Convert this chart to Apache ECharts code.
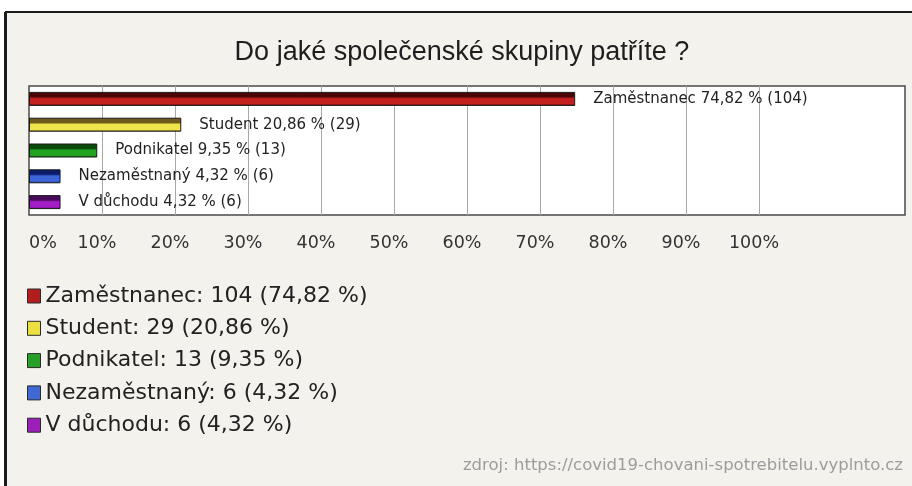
<!DOCTYPE html>
<html><head><meta charset="utf-8">
<script src="https://cdn.jsdelivr.net/npm/echarts@6.0.0/dist/echarts.min.js"></script>
<style>html,body{margin:0;padding:0;background:#fff}#c{width:912px;height:486px}</style>
</head><body><div id="c"></div><script>
const titleText = 'Do jaké společenské skupiny patříte ?';
const sourceText = 'zdroj: https://covid19-chovani-spotrebitelu.vyplnto.cz';
const categories = ['Zaměstnanec', 'Student', 'Podnikatel', 'Nezaměstnaný', 'V důchodu'];
const counts = [104, 29, 13, 6, 6];
const percents = [74.82, 20.86, 9.35, 4.32, 4.32];
const axisMax = 120;
const axisStep = 10;
const lastLabel = 100;

const topColors  = ['#4a0606', '#6e5a1c', '#0b4a0b', '#0c1c6a', '#4a0a5c'];
const faceColors = ['#c41f1f', '#efe54a', '#22a322', '#3b64d6', '#a31ec6'];
const legendColors = ['#b01e1e', '#ece040', '#27a027', '#3f68d2', '#9c1fbb'];

const fmt = p => p.toFixed(2).replace('.', ',');
const chart = echarts.init(document.getElementById('c'), null, {renderer: 'canvas'});

const splitColors = [];
for (let v = 0; v <= axisMax; v += axisStep) {
  splitColors.push(v > 0 && v <= lastLabel ? '#a8a8a8' : 'rgba(0,0,0,0)');
}

const series = categories.map((c, i) => ({
  type: 'bar',
  name: c,
  data: categories.map((_, j) => j === i ? percents[i] : '-'),
  barWidth: 14,
  barGap: '-100%',
  itemStyle: {
    color: {type: 'linear', x: 0, y: 0, x2: 0, y2: 1, colorStops: [
      {offset: 0, color: topColors[i]},
      {offset: 0.35, color: topColors[i]},
      {offset: 0.48, color: faceColors[i]},
      {offset: 0.85, color: faceColors[i]},
      {offset: 1, color: topColors[i]}
    ]},
    borderColor: '#1a1a1a',
    borderWidth: 1
  },
  label: {
    show: true,
    position: 'right',
    distance: 18,
    fontFamily: 'DejaVu Sans',
    fontSize: 15,
    color: '#222',
    formatter: () => `${c} ${fmt(percents[i])} % (${counts[i]})`
  }
}));

chart.setOption({
  backgroundColor: '#ffffff',
  animation: false,
  graphic: [
    {type: 'rect', z: -10, shape: {x: 6, y: 12, width: 920, height: 500},
     style: {fill: '#f4f2ed', stroke: '#1c1c1c', lineWidth: 2}},
    {type: 'rect', z: -9, shape: {x: 4, y: 12, width: 3, height: 480},
     style: {fill: '#1c1c1c'}},
    {type: 'text', z: 10, x: 462, y: 53,
     style: {text: titleText, fontFamily: 'Liberation Sans', fontSize: 27, fill: '#1e1e1e',
             align: 'center', verticalAlign: 'middle'}},
    {type: 'text', z: 10, x: 903, y: 466,
     style: {text: sourceText, fontFamily: 'DejaVu Sans', fontSize: 16.5, fill: '#9c9c9c',
             align: 'right', verticalAlign: 'middle'}}
  ],
  grid: {
    left: 29, right: 7, top: 86, bottom: 271,
    show: true, backgroundColor: '#ffffff', borderColor: '#4a4a4a', borderWidth: 1.5
  },
  legend: {
    orient: 'vertical',
    left: 22, top: 280,
    itemWidth: 13, itemHeight: 14,
    itemGap: 10.3,
    itemTextGap: 8,
    icon: 'rect',
    textStyle: {fontFamily: 'DejaVu Sans', fontSize: 22, lineHeight: 22, color: '#222'},
    data: categories.map((c, i) => ({
      name: c,
      itemStyle: {color: legendColors[i], borderColor: '#2a2a2a', borderWidth: 1}
    })),
    formatter: name => {
      const i = categories.indexOf(name);
      return `${name}: ${counts[i]} (${fmt(percents[i])} %)`;
    }
  },
  xAxis: {
    type: 'value', min: 0, max: axisMax, interval: axisStep,
    axisLine: {show: false}, axisTick: {show: false},
    splitLine: {show: true, lineStyle: {color: splitColors, width: 1}},
    axisLabel: {
      margin: 19,
      fontFamily: 'DejaVu Sans', fontSize: 17.5, color: '#333',
      padding: [0, 10, 0, 0],
      alignMinLabel: 'left',
      formatter: v => v <= lastLabel ? v + '%' : ''
    }
  },
  yAxis: {
    type: 'category', data: categories, inverse: true,
    axisLine: {show: false}, axisTick: {show: false}, axisLabel: {show: false},
    splitLine: {show: false}
  },
  series
});
</script></body></html>
